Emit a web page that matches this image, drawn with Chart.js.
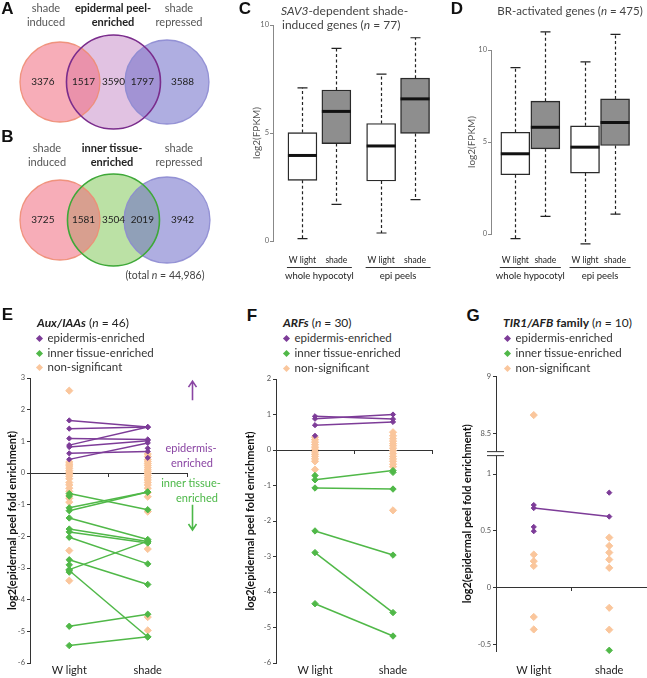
<!DOCTYPE html>
<html><head><meta charset="utf-8">
<script src="https://cdn.jsdelivr.net/npm/chart.js@4.4.1/dist/chart.umd.min.js"></script>
<style>
body{margin:0;background:#fff;}
#wrap{position:relative;width:647px;height:678px;overflow:hidden;font-family:Lato,"Open Sans",sans-serif;color:#333;}
canvas{position:absolute;}
.t{position:absolute;white-space:nowrap;transform:translate(-50%,-50%);font-size:11px;line-height:14px;text-align:center;}
.tl{position:absolute;white-space:nowrap;transform:translateY(-50%);font-size:11.5px;line-height:14px;}
.lab{position:absolute;font-family:"Liberation Sans",Arial,sans-serif;font-weight:bold;font-size:17px;transform:translate(-50%,-50%);color:#111;}
.dia{display:inline-block;width:5px;height:5px;transform:rotate(45deg);margin-right:6px;vertical-align:middle;position:relative;top:-1px;}
</style></head>
<body><div id="wrap">
<canvas id="venn" width="220" height="290" style="left:0;top:0"></canvas>
<canvas id="cBox" width="215" height="285" style="left:225px;top:0"></canvas>
<canvas id="dBox" width="207" height="285" style="left:440px;top:0"></canvas>
<canvas id="eChart" width="218" height="308" style="left:0;top:370px"></canvas>
<canvas id="fChart" width="218" height="308" style="left:218px;top:370px"></canvas>
<canvas id="gChart" width="211" height="308" style="left:436px;top:370px"></canvas>

<div class="lab" style="left:7.5px;top:9px">A</div>
<div class="lab" style="left:7.5px;top:137px">B</div>
<div class="lab" style="left:245px;top:9px">C</div>
<div class="lab" style="left:457px;top:9px">D</div>
<div class="lab" style="left:7.5px;top:315px">E</div>
<div class="lab" style="left:252px;top:316px">F</div>
<div class="lab" style="left:473px;top:316px">G</div>

<div class="t" style="left:46px;top:15px;color:#555">shade<br>induced</div>
<div class="t" style="left:113px;top:15px;font-weight:bold;color:#222">epidermal peel-<br>enriched</div>
<div class="t" style="left:179px;top:15px;color:#555">shade<br>repressed</div>
<div class="t" style="left:47px;top:155px;color:#555">shade<br>induced</div>
<div class="t" style="left:112px;top:155px;font-weight:bold;color:#222">inner tissue-<br>enriched</div>
<div class="t" style="left:179px;top:155px;color:#555">shade<br>repressed</div>
<div class="t" id="totalLbl" style="left:165px;top:275px;font-size:10.5px;color:#444"></div>

<div class="tl" style="left:281px;top:11px;font-size:12px;color:#444"><i>SAV3</i>-dependent shade-</div>
<div class="tl" style="left:282px;top:25px;font-size:12px;color:#444">induced genes (<i>n</i> = 77)</div>
<div class="t" style="left:570px;top:11px;font-size:11.5px;color:#444">BR-activated genes (<i>n</i> = 475)</div>

<div class="tl" style="left:37px;top:323px;font-size:12px;color:#222"><b><i>Aux/IAAs</i></b> (<i>n</i> = 46)</div>
<div class="tl" style="left:36.5px;top:338px"><span class="dia" style="background:#7d3c98"></span>epidermis-enriched</div>
<div class="tl" style="left:36.5px;top:353px"><span class="dia" style="background:#50b848"></span>inner tissue-enriched</div>
<div class="tl" style="left:36.5px;top:367px"><span class="dia" style="background:#fac69c"></span>non-significant</div>

<div class="tl" style="left:283px;top:323px;font-size:12px;color:#222"><b><i>ARFs</i></b> (<i>n</i> = 30)</div>
<div class="tl" style="left:283.5px;top:338px"><span class="dia" style="background:#7d3c98"></span>epidermis-enriched</div>
<div class="tl" style="left:283.5px;top:353px"><span class="dia" style="background:#50b848"></span>inner tissue-enriched</div>
<div class="tl" style="left:283.5px;top:368px"><span class="dia" style="background:#fac69c"></span>non-significant</div>

<div class="tl" style="left:503px;top:323px;font-size:12px;color:#222"><b><i>TIR1/AFB</i> family</b> (<i>n</i> = 10)</div>
<div class="tl" style="left:504.5px;top:338px"><span class="dia" style="background:#7d3c98"></span>epidermis-enriched</div>
<div class="tl" style="left:504.5px;top:353px"><span class="dia" style="background:#50b848"></span>inner tissue-enriched</div>
<div class="tl" style="left:504.5px;top:368px"><span class="dia" style="background:#fac69c"></span>non-significant</div>

<div class="t" style="left:191px;top:448px;color:#8a45a3">epidermis-</div>
<div class="t" style="left:192px;top:463px;color:#8a45a3">enriched</div>
<div class="t" style="left:191px;top:483px;color:#4cb848">inner tissue-</div>
<div class="t" style="left:197px;top:498px;color:#4cb848">enriched</div>
</div>
<script>
// ---------------- DATA ----------------
// Venn diagrams (A: epidermal peel-enriched, B: inner tissue-enriched)
const VENN_A_SETS = ['shade induced', 'epidermal peel-enriched', 'shade repressed'];
const VENN_B_SETS = ['shade induced', 'inner tissue-enriched', 'shade repressed'];
// regions: left only, left∩middle, middle only, middle∩right, right only
const VENN_A_COUNTS = [3376, 1517, 3590, 1797, 3588];
const VENN_B_COUNTS = [3725, 1581, 3504, 2019, 3942];
const VENN_TOTAL = 44986;

// Box plots: order = whole hypocotyl W light, whole hypocotyl shade, epi peels W light, epi peels shade
const BOX_GROUPS = ['whole hypocotyl', 'epi peels'];
const BOX_CONDS = ['W light', 'shade'];
const C_MIN = [0.11, 1.70, 0.37, 1.92];
const C_Q1  = [2.81, 4.51, 2.78, 4.98];
const C_MED = [3.96, 6.00, 4.40, 6.58];
const C_Q3  = [5.02, 6.99, 5.44, 7.54];
const C_MAX = [7.09, 8.92, 7.73, 9.41];
const D_MIN = [-0.25, 0.96, -0.54, 1.08];
const D_Q1  = [3.22, 4.63, 3.31, 4.81];
const D_MED = [4.36, 5.80, 4.72, 6.06];
const D_Q3  = [5.53, 7.22, 5.88, 7.34];
const D_MAX = [9.04, 10.99, 9.35, 10.85];
const BOX_Y_TICKS = [0, 5, 10];

// Enrichment panels: categories
const CATS = ['W light', 'shade'];
// E: Aux/IAAs  (paired genes: W light -> shade)
const E_EPI_WL = [1.66, 1.40, 1.09, 0.88, 0.82, 0.62, 0.43];
const E_EPI_SH = [1.45, 1.45, 1.06, 1.45, 1.02, 0.68, 0.95];
const E_EPI_ONLY_SH = [0.78, 0.48];
const E_IN_WL = [-0.65, -1.10, -1.19, -1.42, -1.77, -1.86, -2.03, -2.74, -3.05, -3.08, -4.84, -5.45];
const E_IN_SH = [-1.16, -0.60, -0.60, -2.10, -2.16, -2.21, -2.87, -3.52, -2.15, -5.18, -4.46, -5.17];
const E_IN_ONLY_WL = [-0.73, -2.90, -3.13];
const E_NS_WL = [2.60, 0.35, 0.28, 0.22, 0.15, 0.08, 0.02, -0.03, -0.10, -0.18, -0.30, -0.38, -0.48, -0.58, -0.70, -0.80, -0.92, -2.45, -3.40];
const E_NS_SH = [0.60, 0.52, 0.42, 0.36, 0.30, 0.24, 0.17, 0.10, 0.04, -0.02, -0.08, -0.15, -0.22, -0.30, -0.38, -0.48, -0.62, -0.75, -1.22, -2.40, -4.55, -4.97];
// F: ARFs
const F_EPI_WL = [0.95, 0.88, 0.70];
const F_EPI_SH = [0.87, 1.00, 0.79];
const F_EPI_ONLY_WL = [0.40];
const F_IN_WL = [-0.84, -1.07, -2.28, -2.89, -4.33];
const F_IN_SH = [-0.58, -1.10, -2.96, -4.58, -5.24];
const F_IN_ONLY_WL = [-0.72];
const F_IN_ONLY_SH = [-0.63];
const F_NS_WL = [0.36, 0.29, 0.22, 0.15, 0.08, 0.02, -0.05, -0.12, -0.18, -0.25, -0.32, -0.55];
const F_NS_SH = [0.50, 0.40, 0.32, 0.25, 0.18, 0.12, 0.05, -0.02, -0.10, -0.18, -0.25, -0.32, -0.40, -0.47, -1.70];
// G: TIR1/AFB family (axis broken between 1 and 8.5)
const G_EPI_WL = [0.70];
const G_EPI_SH = [0.625];
const G_EPI_ONLY_WL = [0.727, 0.534, 0.496];
const G_EPI_ONLY_SH = [0.836];
const G_IN_ONLY_SH = [-0.554];
const G_NS_WL = [8.66, 0.29, 0.232, 0.19, -0.26, -0.37];
const G_NS_SH = [0.44, 0.367, 0.308, 0.246, 0.173, -0.179, -0.372];
const G_Y_TICKS = [-0.5, 0, 0.5, 1, 8.5, 9];

// ---------------- STYLE ----------------
const FONT = 'Lato, "Open Sans", sans-serif';
Chart.defaults.font.family = FONT;
Chart.defaults.color = '#444';
Chart.defaults.animation = false;
Chart.defaults.layout.autoPadding = false;
Chart.defaults.plugins.legend.display = false;
Chart.defaults.plugins.tooltip.enabled = false;
const PURPLE = '#7d3c98', GREEN = '#50b848', PEACH = '#fac69c';

document.getElementById('totalLbl').innerHTML = '(total <i>n</i> = ' + VENN_TOTAL.toLocaleString('en-US') + ')';

// ---------------- VENN ----------------
const VENN_R = [[40, 47, 42], [40, 46, 43]];
const REGION_X = [-0.32, 0.44, 1.0, 1.54, 2.29];
const vennLabels = {
  id: 'vennLabels',
  afterDatasetsDraw(chart, args, o) {
    const {ctx} = chart; const xs = chart.scales.x, ys = chart.scales.y;
    ctx.save();
    ctx.font = '10px "Liberation Sans Narrow", Lato, sans-serif';
    ctx.fillStyle = '#222'; ctx.textAlign = 'center'; ctx.textBaseline = 'middle';
    o.rows.forEach((counts, row) => counts.forEach((c, k) => {
      ctx.fillText(String(c), xs.getPixelForValue(REGION_X[k]), ys.getPixelForValue(row));
    }));
    ctx.restore();
  }
};
new Chart(document.getElementById('venn'), {
  type: 'bubble',
  data: { datasets: [
    { // outline of middle sets on top
      data: [{x: 1, y: 0, r: VENN_R[0][1]}, {x: 1, y: 1, r: VENN_R[1][1]}],
      backgroundColor: 'rgba(0,0,0,0)', borderColor: ['#7a2c8c', '#3ea838'], borderWidth: 1.6, clip: false
    },
    { // shade induced / shade repressed
      data: [{x: 0, y: 0, r: VENN_R[0][0]}, {x: 2, y: 0, r: VENN_R[0][2]}, {x: 0, y: 1, r: VENN_R[1][0]}, {x: 2, y: 1, r: VENN_R[1][2]}],
      backgroundColor: ['rgba(240,105,125,0.55)', 'rgba(110,108,200,0.55)', 'rgba(240,105,125,0.55)', 'rgba(110,108,200,0.55)'],
      borderColor: ['rgba(238,140,115,0.9)', 'rgba(140,138,210,0.9)', 'rgba(238,140,115,0.9)', 'rgba(140,138,210,0.9)'],
      borderWidth: 1.3, clip: false
    },
    { // middle sets
      data: [{x: 1, y: 0, r: VENN_R[0][1]}, {x: 1, y: 1, r: VENN_R[1][1]}],
      backgroundColor: ['rgba(175,95,180,0.38)', 'rgba(120,195,75,0.5)'],
      borderColor: 'rgba(0,0,0,0)', borderWidth: 0, clip: false
    }
  ]},
  options: {
    responsive: false, devicePixelRatio: 1, layout: {padding: 0, autoPadding: false},
    scales: {
      x: {type: 'linear', display: false, min: -1.121, max: 2.991},
      y: {type: 'linear', display: false, reverse: true, min: -0.594, max: 1.507}
    },
    plugins: {vennLabels: {rows: [VENN_A_COUNTS, VENN_B_COUNTS]}}
  },
  plugins: [vennLabels]
});

// ---------------- BOX PLOTS ----------------
const boxPos = (g, c) => 1 + g * 2.32 + c;
const BOX_X = [];
BOX_GROUPS.forEach((g, gi) => BOX_CONDS.forEach((c, ci) => BOX_X.push(boxPos(gi, ci))));
const boxExtras = {
  id: 'boxExtras',
  afterDatasetsDraw(chart, args, o) {
    const {ctx} = chart; const y = chart.scales.y;
    const meta = chart.getDatasetMeta(0);
    ctx.save();
    ctx.strokeStyle = '#222';
    meta.data.forEach((bar, i) => {
      const px = Math.round(bar.x) + 0.5, hw = bar.width / 2;
      const yTop = Math.min(bar.y, bar.base), yBot = Math.max(bar.y, bar.base);
      const yMax = y.getPixelForValue(o.max[i]), yMin = y.getPixelForValue(o.min[i]);
      ctx.lineWidth = 1.2; ctx.setLineDash([3, 2.5]);
      ctx.beginPath(); ctx.moveTo(px, yTop); ctx.lineTo(px, yMax); ctx.moveTo(px, yBot); ctx.lineTo(px, yMin); ctx.stroke();
      ctx.setLineDash([]);
      ctx.beginPath(); ctx.moveTo(px - 5, yMax); ctx.lineTo(px + 5, yMax); ctx.moveTo(px - 5, yMin); ctx.lineTo(px + 5, yMin); ctx.stroke();
      const ym = y.getPixelForValue(o.med[i]);
      ctx.lineWidth = 3; ctx.strokeStyle = '#111';
      ctx.beginPath(); ctx.moveTo(bar.x - hw, ym); ctx.lineTo(bar.x + hw, ym); ctx.stroke();
      ctx.strokeStyle = '#222';
    });
    // group underlines and labels
    ctx.font = '9.5px ' + FONT; ctx.fillStyle = '#222'; ctx.textAlign = 'center'; ctx.textBaseline = 'middle';
    BOX_GROUPS.forEach((g, gi) => {
      const b0 = meta.data[gi * 2], b1 = meta.data[gi * 2 + 1];
      const l = b0.x - b0.width / 2 - 1, r = b1.x + b1.width / 2 + 1;
      ctx.lineWidth = 1; ctx.strokeStyle = '#333';
      ctx.beginPath(); ctx.moveTo(l, o.lineY + 0.5); ctx.lineTo(r, o.lineY + 0.5); ctx.stroke();
      ctx.fillText(g, (l + r) / 2, o.groupY);
    });
    ctx.restore();
  }
};
function boxChart(id, st, spec) {
  return new Chart(document.getElementById(id), {
    type: 'bar',
    data: { datasets: [{
      data: BOX_X.map((x, i) => ({x: x, y: [st.q1[i], st.q3[i]]})),
      backgroundColor: BOX_X.map((x, i) => i % 2 ? '#8e8e8e' : '#ffffff'),
      borderColor: '#2a2a2a', borderWidth: 1.4, borderSkipped: false, barThickness: 29, clip: false
    }]},
    options: {
      responsive: false, devicePixelRatio: 1,
      layout: {padding: {top: spec.top, left: 0, right: 0, bottom: 0}, autoPadding: false},
      scales: {
        x: {type: 'linear', offset: false, min: spec.xmin, max: spec.xmax,
            afterBuildTicks: s => { s.ticks = BOX_X.map(v => ({value: v})); },
            ticks: {callback: (v, i) => BOX_CONDS[i % 2], autoSkip: false, maxRotation: 0, padding: spec.xPad, font: {size: 8.5}, color: '#222'},
            grid: {display: false, drawTicks: false}, border: {display: false},
            afterFit: s => { s.height = spec.xH; }},
        y: {type: 'linear', min: 0, max: 10,
            afterBuildTicks: s => { s.ticks = BOX_Y_TICKS.map(v => ({value: v})); },
            ticks: {font: {size: 7.5}, color: '#666', padding: 1},
            grid: {drawOnChartArea: false, tickLength: 3, color: '#888'}, border: {color: '#888'},
            title: {display: true, text: 'log2(FPKM)', font: {size: 10}, color: '#555', padding: {top: 26, bottom: 0}},
            afterFit: s => { s.width = spec.yW; }}
      },
      plugins: {boxExtras: {min: st.min, med: st.med, max: st.max, lineY: 267, groupY: 276}}
    },
    plugins: [boxExtras]
  });
}
boxChart('cBox', {min: C_MIN, q1: C_Q1, med: C_MED, q3: C_Q3, max: C_MAX},
  {top: 25, yW: 48, xH: 44, xmin: 0.132, xmax: 5.044, xPad: 14});
boxChart('dBox', {min: D_MIN, q1: D_Q1, med: D_MED, q3: D_Q3, max: D_MAX},
  {top: 50, yW: 51, xH: 51, xmin: 0.191, xmax: 4.779, xPad: 21});

// ---------------- ENRICHMENT PANELS ----------------
const catX = i => 1 + 2 * i;
const arrowPlugin = {
  id: 'arrows',
  afterDraw(chart) {
    const {ctx, chartArea} = chart; const y = chart.scales.y;
    const x = chartArea.right + 5.5;
    const arrow = (v0, v1, col) => {
      const a = y.getPixelForValue(v0), b = y.getPixelForValue(v1);
      const d = b < a ? 1 : -1;
      ctx.strokeStyle = col; ctx.lineWidth = 1.6;
      ctx.beginPath(); ctx.moveTo(x, a); ctx.lineTo(x, b);
      ctx.moveTo(x - 4, b + d * 6); ctx.lineTo(x, b); ctx.lineTo(x + 4, b + d * 6); ctx.stroke();
    };
    ctx.save();
    arrow(2.3, 2.9, '#8a45a3');
    arrow(-1.0, -1.8, '#4cb848');
    ctx.restore();
  }
};
const breakPlugin = {
  id: 'axisBreak',
  afterDraw(chart, args, o) {
    const {ctx, chartArea} = chart; const y = chart.scales.y;
    const yb = (y.getPixelForValue(o.map(o.below)) + y.getPixelForValue(o.map(o.above))) / 2;
    const ax = chartArea.left;
    ctx.save();
    ctx.fillStyle = '#fff'; ctx.fillRect(ax - 3, yb - 2, 6, 4);
    ctx.strokeStyle = '#333'; ctx.lineWidth = 1;
    ctx.beginPath(); ctx.moveTo(ax - 9, yb - 2); ctx.lineTo(ax + 8, yb - 2); ctx.moveTo(ax - 9, yb + 2); ctx.lineTo(ax + 8, yb + 2); ctx.stroke();
    ctx.restore();
  }
};
function enrichChart(id, d, spec) {
  const f = spec.map || (v => v);
  const ds = [];
  const style = (color, r) => ({borderColor: color, backgroundColor: color, pointBackgroundColor: color, pointBorderColor: color,
    pointStyle: 'rectRot', pointRadius: r, pointBorderWidth: 1, borderWidth: 1.5, clip: false});
  const pairs = (wl, sh, color, r) => (wl || []).forEach((v, i) => ds.push(Object.assign(
    {data: [{x: catX(0), y: f(v)}, {x: catX(1), y: f(sh[i])}], showLine: true}, style(color, r))));
  const singles = (vals, ci, color, r) => { if (vals && vals.length) ds.push(Object.assign(
    {data: vals.map(v => ({x: catX(ci), y: f(v)})), showLine: false}, style(color, r))); };
  pairs(d.epiWl, d.epiSh, PURPLE, 2.6);
  singles(d.epiOnlyWl, 0, PURPLE, 2.6); singles(d.epiOnlySh, 1, PURPLE, 2.6);
  pairs(d.inWl, d.inSh, GREEN, 3.2);
  singles(d.inOnlyWl, 0, GREEN, 3.2); singles(d.inOnlySh, 1, GREEN, 3.2);
  singles(d.nsWl, 0, PEACH, 3.6); singles(d.nsSh, 1, PEACH, 3.6);
  const yScale = {type: 'linear', min: spec.ymin, max: spec.ymax,
    ticks: {font: {size: 7.5}, color: '#555', padding: 2},
    grid: {drawOnChartArea: false, tickLength: 3, color: '#333'}, border: {color: '#333'},
    title: {display: true, text: 'log2(epidermal peel fold enrichment)', font: {size: 11, weight: 'bold'}, color: '#111', padding: {top: spec.titlePad, bottom: 0}},
    afterFit: s => { s.width = spec.yW; }};
  if (spec.yTicks) {
    yScale.afterBuildTicks = s => { s.ticks = spec.yTicks.map(v => ({value: f(v)})); };
    yScale.ticks.callback = (v, i) => String(spec.yTicks[i]);
  } else {
    yScale.ticks.stepSize = 1;
  }
  return new Chart(document.getElementById(id), {
    type: 'scatter',
    data: {datasets: ds},
    options: {
      responsive: false, devicePixelRatio: 1,
      layout: {padding: {top: spec.top, right: spec.right, left: 0, bottom: 0}, autoPadding: false},
      scales: {
        x: {type: 'linear', min: 0, max: 4,
            afterBuildTicks: s => { s.ticks = CATS.map((c, i) => ({value: catX(i)})); },
            ticks: {callback: (v, i) => CATS[i], autoSkip: false, maxRotation: 0, padding: spec.xPad, font: {size: 11}, color: '#222'},
            grid: {display: false, drawTicks: false}, border: {display: false},
            afterFit: s => { s.height = spec.xH; }},
        xz: {type: 'linear', axis: 'x', position: {y: 0}, min: 0, max: 4,
             ticks: {display: false, stepSize: 2},
             grid: {drawOnChartArea: false, tickLength: 3, color: '#333'}, border: {color: '#333'}},
        y: yScale
      },
      plugins: spec.pluginOpts || {}
    },
    plugins: spec.plugins || []
  });
}
enrichChart('eChart',
  {epiWl: E_EPI_WL, epiSh: E_EPI_SH, epiOnlySh: E_EPI_ONLY_SH, inWl: E_IN_WL, inSh: E_IN_SH, inOnlyWl: E_IN_ONLY_WL, nsWl: E_NS_WL, nsSh: E_NS_SH},
  {ymin: -6, ymax: 3, top: 8, right: 31, yW: 30, xH: 15, xPad: 1, titlePad: 5.4, plugins: [arrowPlugin]});
enrichChart('fChart',
  {epiWl: F_EPI_WL, epiSh: F_EPI_SH, epiOnlyWl: F_EPI_ONLY_WL, inWl: F_IN_WL, inSh: F_IN_SH, inOnlyWl: F_IN_ONLY_WL, inOnlySh: F_IN_ONLY_SH, nsWl: F_NS_WL, nsSh: F_NS_SH},
  {ymin: -6, ymax: 2, top: 9, right: 4, yW: 58, xH: 15, xPad: 1, titlePad: 26});
const BREAK_SHIFT = 7.14;
const gMap = v => v >= 8 ? v - BREAK_SHIFT : v;
enrichChart('gChart',
  {epiWl: G_EPI_WL, epiSh: G_EPI_SH, epiOnlyWl: G_EPI_ONLY_WL, epiOnlySh: G_EPI_ONLY_SH, inOnlySh: G_IN_ONLY_SH, nsWl: G_NS_WL, nsSh: G_NS_SH},
  {ymin: -0.56, ymax: 9 - BREAK_SHIFT, yTicks: G_Y_TICKS, map: gMap, top: 6, right: 0, yW: 60, xH: 27, xPad: 13, titlePad: 25,
   plugins: [breakPlugin], pluginOpts: {axisBreak: {map: gMap, below: 1, above: 8.5}}});
</script>
</body></html>
